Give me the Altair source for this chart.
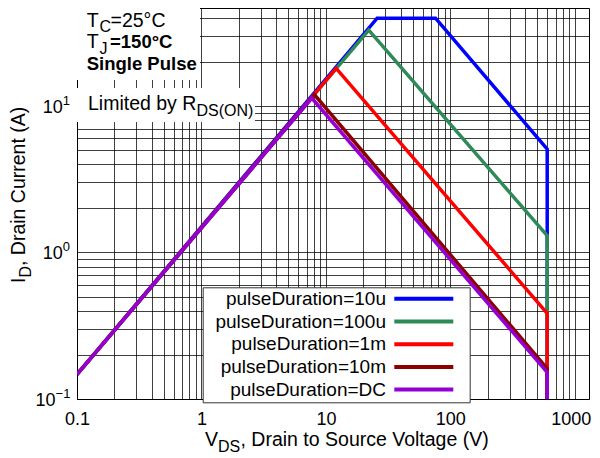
import altair as alt
import pandas as pd

# ---------------- data ----------------
series_names = ["pulseDuration=10u", "pulseDuration=100u", "pulseDuration=1m",
                "pulseDuration=10m", "pulseDuration=DC"]
series_colors = ["#0000FF", "#2E8B57", "#FF0000", "#8B0000", "#9400D3"]

vds_10u = [0.1, 25.8, 76.0, 600, 600]
id_10u = [0.147, 39.6, 39.6, 5.07, 0.1]
vds_100u = [0.1, 22.1, 600, 600]
id_100u = [0.147, 32.8, 1.30, 0.1]
vds_1m = [0.1, 12.1, 600, 600]
id_1m = [0.147, 18.0, 0.384, 0.1]
vds_10m = [0.1, 8.1, 600, 600]
id_10m = [0.147, 11.9, 0.161, 0.1]
vds_dc = [0.1, 7.7, 600, 600]
id_dc = [0.147, 11.3, 0.152, 0.1]

x_grid = [0.1, 0.2, 0.3, 0.4, 0.5, 0.6, 0.7, 0.8, 0.9,
          1, 2, 3, 4, 5, 6, 7, 8, 9,
          10, 20, 30, 40, 50, 60, 70, 80, 90,
          100, 200, 300, 400, 500, 600, 700, 800, 900, 1000]
x_label_values = [0.1, 1, 10, 100, 1000]
x_label_texts = ["0.1", "1", "10", "100", "1000"]

y_grid = [0.1, 0.2, 0.3, 0.4, 0.5, 0.6, 0.7, 0.8, 0.9,
          1, 2, 3, 4, 5, 6, 7, 8, 9,
          10, 20, 30, 40]
y_label_values = [0.1, 1, 10]
y_label_bases = ["10", "10", "10"]
y_label_exps = ["\u22121", "0", "1"]

x_domain = [0.1, 1300]
y_domain = [0.1, 46.5]

FONT = "Liberation Sans"

# ---------------- table ----------------
rows = []
for name, vs, ids in zip(series_names,
                         [vds_10u, vds_100u, vds_1m, vds_10m, vds_dc],
                         [id_10u, id_100u, id_1m, id_10m, id_dc]):
    for k, (v, i) in enumerate(zip(vs, ids)):
        rows.append({"series": name, "k": k, "v": v, "i": i})
df = pd.DataFrame(rows)


def label_expr(values, texts):
    expr = "''"
    for v, t in reversed(list(zip(values, texts))):
        expr = f"datum.value == {v} ? '{t}' : ({expr})"
    return expr


x_scale = alt.Scale(type="log", domain=x_domain)
y_scale = alt.Scale(type="log", domain=y_domain)

x_axis = alt.Axis(values=x_grid, labelExpr=label_expr(x_label_values, x_label_texts),
                  grid=True, gridColor="black", gridOpacity=0.75, gridWidth=1,
                  ticks=False, domain=False, labelFontSize=18, labelFont=FONT,
                  labelColor="black", labelPadding=11, labelOverlap=False,
                  labelOffset={"expr": "datum.value == 1000 ? -4 : 0"},
                  labelFlush=False, labelBound=False, title=None, zindex=0)
y_axis = alt.Axis(values=y_grid, labels=False,
                  grid=True, gridColor="black", gridOpacity=0.75, gridWidth=1,
                  ticks=False, domain=False, title=None, zindex=0)

legend = alt.Legend(orient="none", legendX=125.7, legendY=279.3, title=None,
                    fillColor="white", strokeColor="#333333", padding=2,
                    labelFontSize=19, labelFont=FONT, labelColor="black",
                    labelAlign="right", labelBaseline="middle",
                    labelOffset={"expr": "-47.3"},
                    labelLimit=400, symbolOffset=209.6, symbolType="M-6,0H6M7.2,0L7.2,0",
                    symbolSize=96.7, symbolStrokeWidth=4, rowPadding=2.7)

lines = alt.Chart(df).mark_line(strokeWidth=3.5, clip=True).encode(
    x=alt.X("v:Q", scale=x_scale, axis=x_axis),
    y=alt.Y("i:Q", scale=y_scale, axis=y_axis),
    color=alt.Color("series:N", scale=alt.Scale(domain=series_names, range=series_colors),
                    legend=legend),
    order="k:Q",
)

one = pd.DataFrame({"k": [0]})


def box(x1, x2, y1, y2):
    return alt.Chart(one).mark_rect(color="white").encode(
        x=alt.value(x1), x2=alt.value(x2), y=alt.value(y1), y2=alt.value(y2))


def txt(s, x, y, size=19.5, weight="normal", angle=0):
    return alt.Chart(pd.DataFrame({"s": [s]})).mark_text(
        align="left", baseline="alphabetic", font=FONT, fontSize=size,
        fontWeight=weight, color="black", x=x, y=y, angle=angle).encode(text="s:N")


# y tick labels as base + raised exponent, placed through the y scale
y_labels = []
for val, base, ex in zip(y_label_values, y_label_bases, y_label_exps):
    exp_w = 7.2 * len(ex)
    d = pd.DataFrame({"i": [val], "b": [base], "e": [ex]})
    y_labels.append(alt.Chart(d).mark_text(
        align="right", baseline="middle", font=FONT, fontSize=18, color="black",
        x=-7 - exp_w, dy=2).encode(y=alt.Y("i:Q", scale=y_scale, axis=y_axis), text="b:N"))
    y_labels.append(alt.Chart(d).mark_text(
        align="left", baseline="middle", font=FONT, fontSize=13, color="black",
        x=-7 - exp_w, dy=-5).encode(y=alt.Y("i:Q", scale=y_scale, axis=y_axis), text="e:N"))

SUB = 16
annotations = [
    box(0, 123, 0, 72),
    box(0, 178, 80, 114),
    txt("T", 9.7, 18.7), txt("C", 22.6, 24.2, SUB), txt("=25\u00b0C", 33.5, 18.7),
    txt("T", 9.7, 40.3), txt("J", 22.6, 45.8, SUB),
    txt("=150\u00b0C", 33, 40.3, 18.5, "bold"),
    txt("Single Pulse", 9.7, 62, 18.5, "bold"),
    txt("Limited by R", 11, 102), txt("DS(ON)", 119.5, 107.5, SUB),
    # x title
    txt("V", 128, 438), txt("DS", 141, 443.5, SUB),
    txt(", Drain to Source Voltage (V)", 163.5, 438),
    # y title
    txt("I", -52.5, 275, angle=270), txt("D", -46.5, 269.6, SUB, angle=270),
    txt(", Drain Current (A)", -52.5, 258, angle=270),
]

chart = alt.layer(lines, *y_labels, *annotations).properties(
    width=512, height=391,
    autosize=alt.AutoSizeParams(type="none"),
    padding={"left": 69, "top": 0, "right": 3, "bottom": 55},
).configure_view(stroke="black", strokeWidth=1)

chart.save("out.html", embed_options={"renderer": "svg", "actions": False})
